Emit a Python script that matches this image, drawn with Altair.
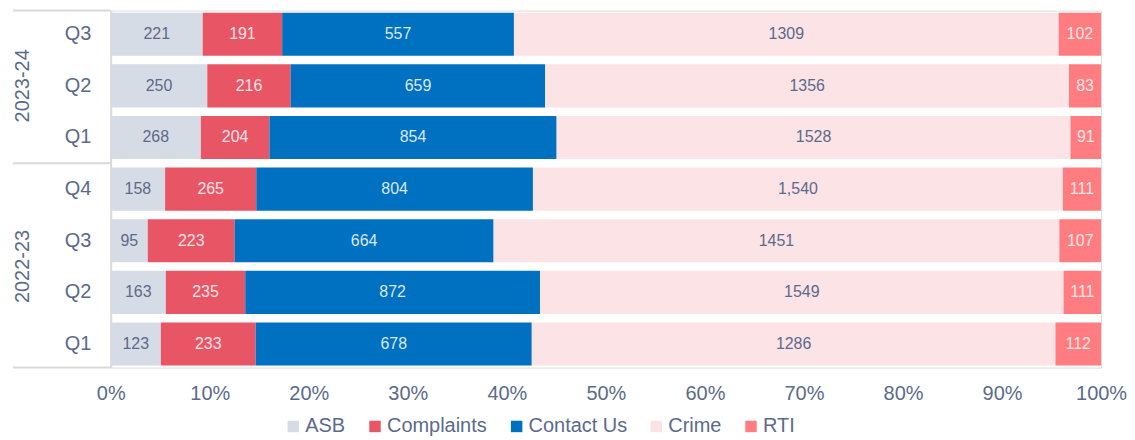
import altair as alt
import pandas as pd

# ---- data ----
years = ["2023-24", "2023-24", "2023-24", "2022-23", "2022-23", "2022-23", "2022-23"]
quarters = ["Q3", "Q2", "Q1", "Q4", "Q3", "Q2", "Q1"]
categories = ["ASB", "Complaints", "Contact Us", "Crime", "RTI"]
asb = [221, 250, 268, 158, 95, 163, 123]
complaints = [191, 216, 204, 265, 223, 235, 233]
contact_us = [557, 659, 854, 804, 664, 872, 678]
crime = [1309, 1356, 1528, 1540, 1451, 1549, 1286]
rti = [102, 83, 91, 111, 107, 111, 112]
crime_labels = ["1309", "1356", "1528", "1,540", "1451", "1549", "1286"]
x_ticks = [0, 0.1, 0.2, 0.3, 0.4, 0.5, 0.6, 0.7, 0.8, 0.9, 1.0]

# ---- styles ----
bar_colors = ["#d6dce5", "#e85565", "#0070c0", "#fbe3e6", "#ff7c80"]
label_colors = ["#5b6a8a", "#fde3e6", "#dbe8f5", "#5b6a8a", "#ffe6e6"]
text_color = "#5b6a8a"
rule_color = "#d9d9d9"
FONT = "Liberation Sans"

W, H = 993, 358
P_IN, P_OUT = 0.165, 0.04
n_rows = len(quarters)
step = H / (n_rows - P_IN + 2 * P_OUT)

rows = [f"{y}|{q}" for y, q in zip(years, quarters)]
series = [asb, complaints, contact_us, crime, rti]
recs = []
for ci, (cat, vals) in enumerate(zip(categories, series)):
    for ri, r in enumerate(rows):
        lab = crime_labels[ri] if cat == "Crime" else str(vals[ri])
        recs.append({"row": r, "cat": cat, "order": ci, "value": vals[ri], "label": lab})
df = pd.DataFrame(recs)

yscale = alt.Scale(domain=rows, paddingInner=P_IN, paddingOuter=P_OUT)
yaxis = alt.Axis(title=None, labelExpr="split(datum.label, '|')[1]", ticks=False,
                 domainColor=rule_color, domainWidth=2, labelPadding=20,
                 labelFontSize=20, labelColor=text_color, labelFont=FONT)

base = alt.Chart(df).transform_stack(
    stack="value", groupby=["row"], as_=["v0", "v1"], offset="normalize",
    sort=[alt.SortField("order", order="ascending")]
).transform_calculate(mid="(datum.v0 + datum.v1) / 2")

xscale = alt.Scale(domain=[0, 1], nice=False)
xaxis = alt.Axis(title=None, format=".0%", values=x_ticks, domain=False, ticks=False,
                 grid=False, labelFontSize=20, labelPadding=16, labelColor=text_color,
                 labelFont=FONT, labelFlush=False)

bars = base.mark_bar().encode(
    x=alt.X("v0:Q", scale=xscale, axis=xaxis),
    x2="v1:Q",
    y=alt.Y("row:N", scale=yscale, axis=yaxis, sort=rows),
    color=alt.Color("cat:N", scale=alt.Scale(domain=categories, range=bar_colors),
                    legend=alt.Legend(title=None, orient="none", direction="horizontal",
                                      legendX=173, legendY=407, symbolType="square",
                                      symbolSize=132, symbolStrokeWidth=0,
                                      labelFontSize=20, labelColor=text_color,
                                      labelFont=FONT, columnPadding=19, labelOffset=2)),
)

labels = base.mark_text(fontSize=16, font=FONT).encode(
    x=alt.X("mid:Q", scale=xscale, axis=xaxis),
    y=alt.Y("row:N", scale=yscale, axis=yaxis, sort=rows),
    text="label:N",
    color=alt.Color("cat:N", scale=alt.Scale(domain=categories, range=label_colors), legend=None),
)

def year_label(year, anchor, off):
    return alt.Chart(pd.DataFrame({"row": [anchor], "year": [year]})).mark_text(
        angle=270, fontSize=20, font=FONT, color=text_color, yOffset=off
    ).encode(x=alt.value(-88), y=alt.Y("row:N", scale=yscale, axis=yaxis, sort=rows), text="year:N")

def bracket(anchor, band, off):
    return alt.Chart(pd.DataFrame({"row": [anchor]})).mark_rule(
        color=rule_color, strokeWidth=2, yOffset=off
    ).encode(x=alt.value(-98), x2=alt.value(0),
             y=alt.Y("row:N", scale=yscale, axis=yaxis, sort=rows, bandPosition=band))

y1 = year_label("2023-24", rows[1], 0)
y2 = year_label("2022-23", rows[4], step / 2)
r_top = bracket(rows[0], 0, -P_OUT * step)
r_mid = bracket(rows[2], 1, P_IN * step / 2)
r_bot = bracket(rows[6], 1, P_OUT * step)

chart = alt.layer(bars, labels, y1, y2, r_top, r_mid, r_bot).resolve_scale(
    color="independent"
).properties(
    width=W, height=H, padding={"left": 4, "top": 0, "right": 0, "bottom": 0}
).configure_view(stroke=None).configure(font=FONT)

chart.save("out.html", embed_options={"renderer": "svg", "actions": False})
